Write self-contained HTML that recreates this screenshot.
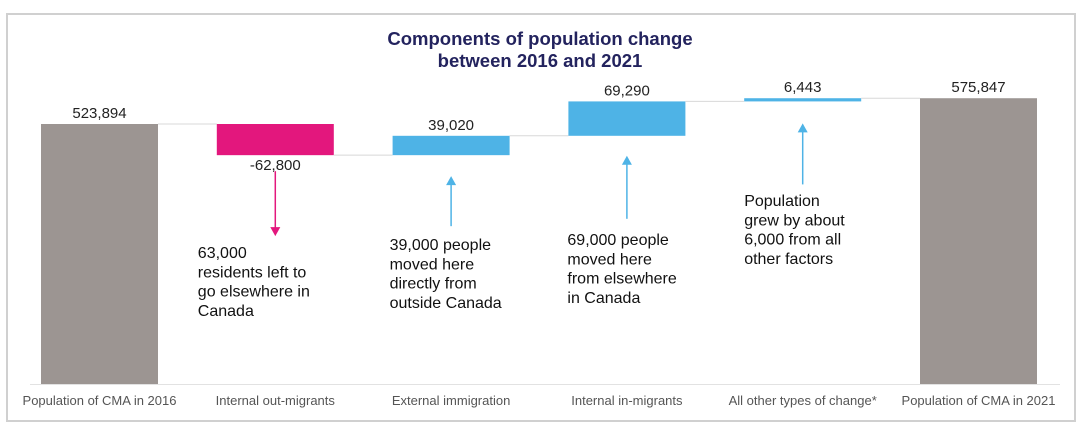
<!DOCTYPE html>
<html><head><meta charset="utf-8"><style>
body{margin:0;background:#fff;width:1089px;height:438px;overflow:hidden;font-family:"Liberation Sans",sans-serif}
svg text{font-family:"Liberation Sans",sans-serif}
</style></head><body>
<svg width="1089" height="438">
<rect x="7" y="14" width="1068" height="407" fill="#fff" stroke="#d0d0d0" stroke-width="2"/>
<text x="540" y="45" text-anchor="middle" font-size="18.5" font-weight="bold" fill="#23235e">Components of population change</text>
<text x="540" y="67" text-anchor="middle" font-size="18.5" font-weight="bold" fill="#23235e">between 2016 and 2021</text>
<g id="plot"></g>
</svg>
<script>
const categories=["Population of CMA in 2016","Internal out-migrants","External immigration","Internal in-migrants","All other types of change*","Population of CMA in 2021"];
const values=[523894,-62800,39020,69290,6443,575847];
const valueLabels=["523,894","-62,800","39,020","69,290","6,443","575,847"];
const kinds=["total","neg","pos","pos","pos","total"];
const annotations=[null,["63,000","residents left to","go elsewhere in","Canada"],["39,000 people","moved here","directly from","outside Canada"],["69,000 people","moved here","from elsewhere","in Canada"],["Population","grew by about","6,000 from all","other factors"],null];
// layout constants (pixels): arrow start/end gap below bar, text baseline, text x offset
const arrowGap=[0,16,21,20,22,0];
const arrowLen=[0,65,50,63,61,0];
const textBase=[0,258,250,245,206,0];
const textDx=[0,-19,-3,-1,0,0];
const NS="http://www.w3.org/2000/svg";
const g=document.getElementById('plot');
const baseY=384, scale=260/523894;
const y=v=>baseY-v*scale;
const xLeft=i=>41+i*175.8, bw=117;
function mk(t,a){const e=document.createElementNS(NS,t);for(const k in a)e.setAttribute(k,a[k]);g.appendChild(e);return e;}
const ax=mk('line',{x1:30,x2:1060,y1:baseY+0.5,y2:baseY+0.5,stroke:'#e2e2e2','stroke-width':1});


let run=0;
values.forEach((v,i)=>{
 let top,bot,col;
 if(kinds[i]==='total'){top=y(v);bot=baseY;col='#9c9592';run=v;}
 else{const s=run,e=run+v;top=y(Math.max(s,e));bot=y(Math.min(s,e));col=v<0?'#e3177d':'#4eb3e6';run=e;}
 const x=xLeft(i);
 const r=mk('rect',{x:x,y:top,width:bw,height:Math.max(bot-top,1),fill:col});
 
 
 if(i<values.length-1){
  const ly=y(run);
  const c=mk('line',{x1:x+bw,x2:xLeft(i+1),y1:ly,y2:ly,stroke:'#d8d8d8','stroke-width':1});
  
  
 }
 const labY=v<0?bot+15:top-6;
 const t=mk('text',{x:x+bw/2,y:labY,'text-anchor':'middle','font-size':15,fill:'#222'});
 t.textContent=valueLabels[i];
 
 
 const cl=mk('text',{x:x+bw/2,y:405,'text-anchor':'middle','font-size':13,fill:'#555'});
 cl.textContent=categories[i];
 
 
 if(annotations[i]){
  const cx=x+bw/2;
  const a0=bot+arrowGap[i], a1=a0+arrowLen[i];
  const ac=v<0?'#e3177d':'#4eb3e6';
  const ln=mk('line',{x1:cx,x2:cx,y1:v<0?a0:a0+8,y2:v<0?a1-8:a1,stroke:ac,'stroke-width':1.5});
  
  
  const hp=v<0?`${cx-5},${a1-9} ${cx+5},${a1-9} ${cx},${a1}`:`${cx-5},${a0+9} ${cx+5},${a0+9} ${cx},${a0}`;
  const h=mk('polygon',{points:hp,fill:ac});
  
  
  annotations[i].forEach((s,k)=>{
   const at=mk('text',{x:x+textDx[i],y:textBase[i]+k*19.3,'font-size':16,fill:'#111'});
   at.textContent=s;
   
   
  });
 }
});
</script>
</body></html>
